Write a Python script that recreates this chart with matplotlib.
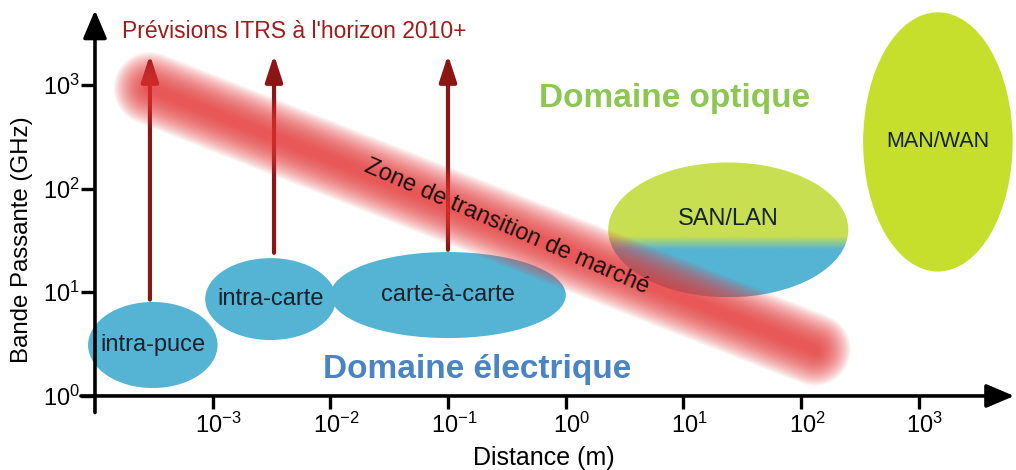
import numpy as np
import matplotlib
matplotlib.use("Agg")
import matplotlib.pyplot as plt
import matplotlib.transforms as mtransforms
from matplotlib.patches import Ellipse
from matplotlib.colors import to_rgb
from matplotlib.ticker import FixedLocator, FuncFormatter

plt.rcParams["font.family"] = ["Liberation Sans", "DejaVu Sans"]

# Domaines (ellipses): centre en distance (m) / bande passante (GHz), étendue en décades
domain_labels = ["intra-puce", "intra-carte", "carte-à-carte", "SAN/LAN", "MAN/WAN"]
domain_dist = [3.1e-4, 3.1e-3, 0.1, 24, 1450]
domain_bw = [3.1, 8.6, 9.4, 40, 282]
domain_span_x = [1.10, 1.11, 2.0, 2.04, 1.27]
domain_span_y = [0.83, 0.79, 0.83, 1.30, 2.50]

# Prévisions ITRS (flèches)
itrs_dist = [2.93e-4, 3.32e-3, 0.0998]
itrs_bw_from = [8.5, 24, 25.7]
itrs_bw_to = [1950, 1950, 1950]

# Zone de transition de marché
band_dist = [2.93e-4, 130]
band_bw = [930, 2.8]

x_ticks = [-3, -2, -1, 0, 1, 2, 3]
y_ticks = [0, 1, 2, 3]

BLUE = "#55b4d4"
GREEN_LAN = "#c9df52"
GREEN_WAN = "#c6df2c"
DARK_RED = "#8c1616"

fig = plt.figure(figsize=(10.16, 4.70), dpi=100)
ax = fig.add_axes([0, 0, 1, 1])

lx = np.log10(domain_dist)
ly = np.log10(domain_bw)

# ellipses
for i, name in enumerate(domain_labels):
    if name == "SAN/LAN":
        continue
    color = GREEN_WAN if name == "MAN/WAN" else BLUE
    ax.add_patch(Ellipse((lx[i], ly[i]), domain_span_x[i], domain_span_y[i],
                         facecolor=color, edgecolor="none", zorder=1))

# SAN/LAN: dégradé vert -> bleu
i = domain_labels.index("SAN/LAN")
cx, cy, w, h = lx[i], ly[i], domain_span_x[i], domain_span_y[i]
ell = Ellipse((cx, cy), w, h, facecolor="none", edgecolor="none")
ax.add_patch(ell)
yy = np.linspace(cy - h / 2, cy + h / 2, 300)
t = np.clip((yy - 1.41) / 0.13, 0, 1)[:, None, None]
img = np.array(to_rgb(BLUE)) * (1 - t) + np.array(to_rgb(GREEN_LAN)) * t
im = ax.imshow(img, extent=(cx - w / 2, cx + w / 2, cy - h / 2, cy + h / 2),
               origin="lower", aspect="auto", interpolation="bilinear", zorder=1)
im.set_clip_path(ell)

# flèches ITRS
for xd, y0, y1 in zip(itrs_dist, itrs_bw_from, itrs_bw_to):
    ax.annotate("", xy=(np.log10(xd), np.log10(y1)), xytext=(np.log10(xd), np.log10(y0)),
                arrowprops=dict(arrowstyle="-|>,head_length=0.8,head_width=0.26",
                                lw=3, color=DARK_RED, mutation_scale=20,
                                shrinkA=0, shrinkB=0), zorder=2)

# bande rouge floue
bx, by = np.log10(band_dist), np.log10(band_bw)
for lw in np.linspace(52, 6, 28):
    ax.plot(bx, by, color="#e83a3a", lw=lw, alpha=0.058,
            solid_capstyle="round", zorder=3)

# textes
for i, name in enumerate(domain_labels):
    dy = 0.1 if name == "SAN/LAN" else 0.0
    size = 15.5 if name == "MAN/WAN" else 17
    ax.text(lx[i], ly[i] + dy, name, ha="center", va="center",
            fontsize=size, color="#16222c", zorder=4)

ax.text(-0.50, 1.63, "Zone de transition de marché", rotation=-23.5,
        rotation_mode="anchor", ha="center", va="center", fontsize=17,
        color="#1a1010", zorder=4)
ax.text(-2.31, 3.45, "Prévisions ITRS à l'horizon 2010+", ha="center",
        va="baseline", fontsize=16.5, color="#a01c1c", zorder=4)
ax.text(0.92, 2.79, "Domaine optique", ha="center", va="baseline",
        fontsize=24, fontweight="bold", color="#8dc752", zorder=4)
ax.text(-0.755, 0.174, "Domaine électrique", ha="center", va="baseline",
        fontsize=24, fontweight="bold", color="#4b84c4", zorder=4)

# axes avec flèches
arrow_kw = dict(arrowstyle="-|>,head_length=0.85,head_width=0.36", lw=2.6,
                color="black", mutation_scale=20, shrinkA=0, shrinkB=0)
ax.annotate("", xy=(3.81, 0), xytext=(-4.12, 0), arrowprops=arrow_kw, zorder=5)
ax.annotate("", xy=(-4, 3.72), xytext=(-4, -0.16), arrowprops=arrow_kw, zorder=5)

for s in ["top", "right"]:
    ax.spines[s].set_visible(False)
ax.spines["left"].set_position(("data", -4))
ax.spines["bottom"].set_position(("data", 0))
ax.spines["left"].set_color("none")
ax.spines["bottom"].set_color("none")

ax.xaxis.set_major_locator(FixedLocator(x_ticks))
ax.yaxis.set_major_locator(FixedLocator(y_ticks))
fmt = FuncFormatter(lambda v, p: r"$\mathregular{10^{%d}}$" % v)
ax.xaxis.set_major_formatter(fmt)
ax.yaxis.set_major_formatter(fmt)
ax.tick_params(axis="x", direction="out", length=9, width=2.4, labelsize=17, pad=3)
ax.tick_params(axis="y", direction="out", length=10, width=2.4, labelsize=17, pad=1)

# décale les étiquettes x pour centrer le "10" sous la graduation
shift = mtransforms.ScaledTranslation(6 / 100, 0, fig.dpi_scale_trans)
for lab in ax.get_xticklabels():
    lab.set_transform(lab.get_transform() + shift)

ax.set_xlabel("Distance (m)", fontsize=18, va="center")
ax.xaxis.set_label_coords(544 / 1016, 1 - 458 / 470)
ax.set_ylabel("Bande Passante (GHz)", fontsize=17.3, va="center")
ax.yaxis.set_label_coords(22 / 1016, 1 - 240 / 470)

ax.set_xlim(-4.807, 3.825)
ax.set_ylim(-0.714, 3.819)

fig.savefig("out.png", dpi=100)
